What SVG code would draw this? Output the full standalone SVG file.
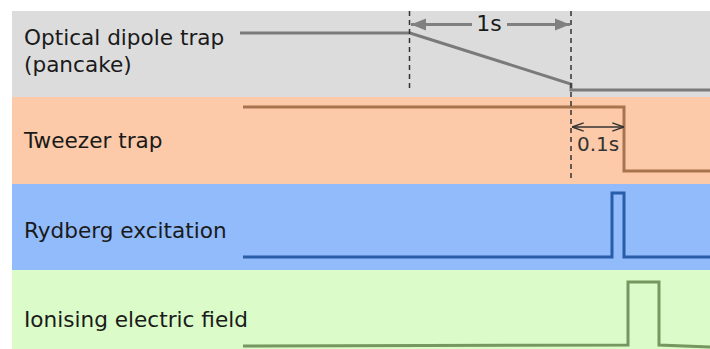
<svg xmlns="http://www.w3.org/2000/svg" width="710" height="349" viewBox="0 0 710 349">
<defs>
<style>
.lbl{font-family:"DejaVu Sans",Verdana,sans-serif;font-size:21.6px;fill:#1a1a1a}
.trace{fill:none;stroke-width:3;stroke-linejoin:miter}
.dash{stroke:#333;stroke-width:1.5;stroke-dasharray:5,4;fill:none}
</style>
<marker id="ag" viewBox="0 0 10 10" refX="10" refY="5" markerWidth="5" markerHeight="5" orient="auto-start-reverse" markerUnits="strokeWidth">
<path d="M0,1 L10,5 L0,9 z" fill="#808080"/>
</marker>
<marker id="ad" viewBox="0 0 10 10" refX="10" refY="5" markerWidth="9" markerHeight="9" orient="auto-start-reverse" markerUnits="strokeWidth">
<path d="M0,1.5 L10,5 L0,8.5" fill="none" stroke="#333" stroke-width="1.2"/>
</marker>
</defs>
<rect width="710" height="349" fill="#ffffff"/>
<g id="band-dipole">
<rect x="12" y="11" width="698" height="86" fill="#dcdcdc"/>
<text class="lbl" x="24" y="45">Optical dipole trap</text>
<text class="lbl" x="24" y="72">(pancake)</text>
</g>
<g id="band-tweezer">
<rect x="12" y="97" width="698" height="87" fill="#fccaa8"/>
<text class="lbl" x="24" y="148">Tweezer trap</text>
</g>
<g id="band-rydberg">
<rect x="12" y="184" width="698" height="86" fill="#91bbfb"/>
<text class="lbl" x="24" y="238">Rydberg excitation</text>
</g>
<g id="band-ionising">
<rect x="12" y="270" width="698" height="79" fill="#dbfbc8"/>
<text class="lbl" x="24" y="327">Ionising electric field</text>
</g>
<g id="connectors">
<polyline class="trace" stroke="#7a7a7a" points="240,33 410,33 571,84 571,90 710,90"/>
<polyline class="trace" stroke="#a8744f" points="243,107 624,107 624,171 710,171"/>
<polyline class="trace" stroke="#2a5da8" points="243,257 612,257 612,193 624,193 624,257 710,257"/>
<polyline class="trace" stroke="#76975f" points="243,346 628,345 628,282 659,282 659,345 710,347"/>
<line class="dash" x1="409.5" y1="11" x2="409.5" y2="92"/>
<line class="dash" x1="571" y1="11" x2="571" y2="182"/>
<line x1="472" y1="24.5" x2="411" y2="24.5" stroke="#808080" stroke-width="3" marker-end="url(#ag)"/>
<line x1="507" y1="24.5" x2="570" y2="24.5" stroke="#808080" stroke-width="3" marker-end="url(#ag)"/>
<line x1="572" y1="127" x2="624" y2="127" stroke="#333" stroke-width="1.3" marker-start="url(#ad)" marker-end="url(#ad)"/>
<text x="489" y="31" font-family="DejaVu Sans,Verdana,sans-serif" font-size="22" fill="#1a1a1a" text-anchor="middle">1s</text>
<text x="577" y="151" font-family="DejaVu Sans,Verdana,sans-serif" font-size="20" fill="#333333">0.1s</text>
</g>
</svg>
